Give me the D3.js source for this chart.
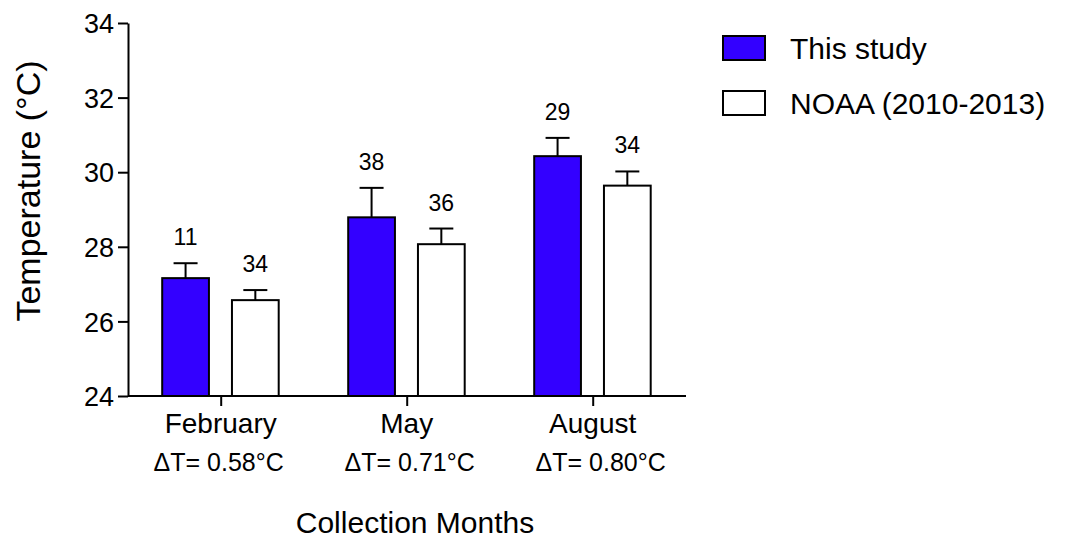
<!DOCTYPE html>
<html>
<head>
<meta charset="utf-8">
<script src="https://cdn.jsdelivr.net/npm/d3@7"></script>
<style>
  body { margin: 0; background: #fff; }
  text { font-family: "Liberation Sans", Arial, sans-serif; fill: #000; }
</style>
</head>
<body>
<div id="chart"></div>
<script>
// data
const months = ['February', 'May', 'August'];
const deltaLabels = ['\u0394T= 0.58\u00b0C', '\u0394T= 0.71\u00b0C', '\u0394T= 0.80\u00b0C'];
const seriesNames = ['This study', 'NOAA (2010-2013)'];
const studyMeans = [27.16, 28.79, 30.43];
const studyErr = [0.40, 0.79, 0.49];
const studyN = [11, 38, 29];
const noaaMeans = [26.57, 28.07, 29.64];
const noaaErr = [0.27, 0.42, 0.38];
const noaaN = [34, 36, 34];
const yTicks = [24, 26, 28, 30, 32, 34];

const width = 1067;
const height = 542;
const mLeft = 128, mRight = 686, mTop = 23, mBottom = 396;

const svg = d3.select('#chart')
  .append('svg')
  .attr('width', width)
  .attr('height', height);

const y = d3.scaleLinear().domain([24, 34]).range([mBottom, mTop]);
const x = d3.scalePoint().domain(months).range([220.7, 592.7]);
const inner = d3.scaleBand().domain(seriesNames).range([-58.5, 58]).paddingInner(0.33);

const series = [
  { name: seriesNames[0], means: studyMeans, err: studyErr, n: studyN, fill: '#3300ff' },
  { name: seriesNames[1], means: noaaMeans, err: noaaErr, n: noaaN, fill: '#ffffff' },
];

// bars with error bars and n labels
series.forEach((s) => {
  const g = svg.append('g');
  months.forEach((m, i) => {
    const bx = x(m) + inner(s.name);
    const bw = inner.bandwidth();
    const mid = bx + bw / 2;
    const yTopErr = y(s.means[i] + s.err[i]);
    g.append('line')
      .attr('x1', mid).attr('x2', mid)
      .attr('y1', y(s.means[i])).attr('y2', yTopErr)
      .attr('stroke', '#000').attr('stroke-width', 2);
    g.append('line')
      .attr('x1', mid - 12).attr('x2', mid + 12)
      .attr('y1', yTopErr).attr('y2', yTopErr)
      .attr('stroke', '#000').attr('stroke-width', 2);
    g.append('rect')
      .attr('x', bx).attr('y', y(s.means[i]))
      .attr('width', bw).attr('height', y(24) - y(s.means[i]))
      .attr('fill', s.fill).attr('stroke', '#000').attr('stroke-width', 2);
    g.append('text')
      .attr('x', mid).attr('y', yTopErr - 18)
      .attr('text-anchor', 'middle')
      .attr('font-size', '23px')
      .text(s.n[i]);
  });
});

// y axis
const yAxis = svg.append('g')
  .attr('transform', `translate(${mLeft},0)`)
  .call(d3.axisLeft(y).tickValues(yTicks).tickSize(10).tickSizeOuter(0).tickPadding(4));
yAxis.selectAll('text').attr('font-size', '27px').attr('dy', '0.36em')
  .style('font-family', '"Liberation Sans", Arial, sans-serif');
yAxis.selectAll('line, path').attr('stroke', '#000').attr('stroke-width', 2);

// x axis
const xAxis = svg.append('g')
  .attr('transform', `translate(0,${mBottom})`)
  .call(d3.axisBottom(x).tickSize(10).tickSizeOuter(0).tickFormat(''));
xAxis.select('.domain').attr('d', `M${mLeft},0H${mRight}`);
xAxis.selectAll('line, path').attr('stroke', '#000').attr('stroke-width', 2);

months.forEach((m, i) => {
  svg.append('text')
    .attr('x', x(m)).attr('y', 433)
    .attr('text-anchor', 'middle')
    .attr('font-size', '28px')
    .text(m);
  svg.append('text')
    .attr('x', x(m) + (i * 5 - 2)).attr('y', 471)
    .attr('text-anchor', 'middle')
    .attr('font-size', '25px')
    .text(deltaLabels[i]);
});

// axis titles
svg.append('text')
  .attr('x', 415).attr('y', 533)
  .attr('text-anchor', 'middle')
  .attr('font-size', '30px')
  .text('Collection Months');

svg.append('text')
  .attr('transform', `translate(40,191) rotate(-90)`)
  .attr('text-anchor', 'middle')
  .attr('font-size', '34px')
  .text('Temperature (\u00b0C)');

// legend
const legend = svg.append('g').attr('transform', 'translate(723,36)');
series.forEach((s, i) => {
  legend.append('rect')
    .attr('x', 0).attr('y', i * 55)
    .attr('width', 42).attr('height', 24)
    .attr('fill', s.fill).attr('stroke', '#000').attr('stroke-width', 2);
  legend.append('text')
    .attr('x', 67).attr('y', i * 55 + 23)
    .attr('font-size', '30px')
    .text(s.name);
});
</script>
</body>
</html>
